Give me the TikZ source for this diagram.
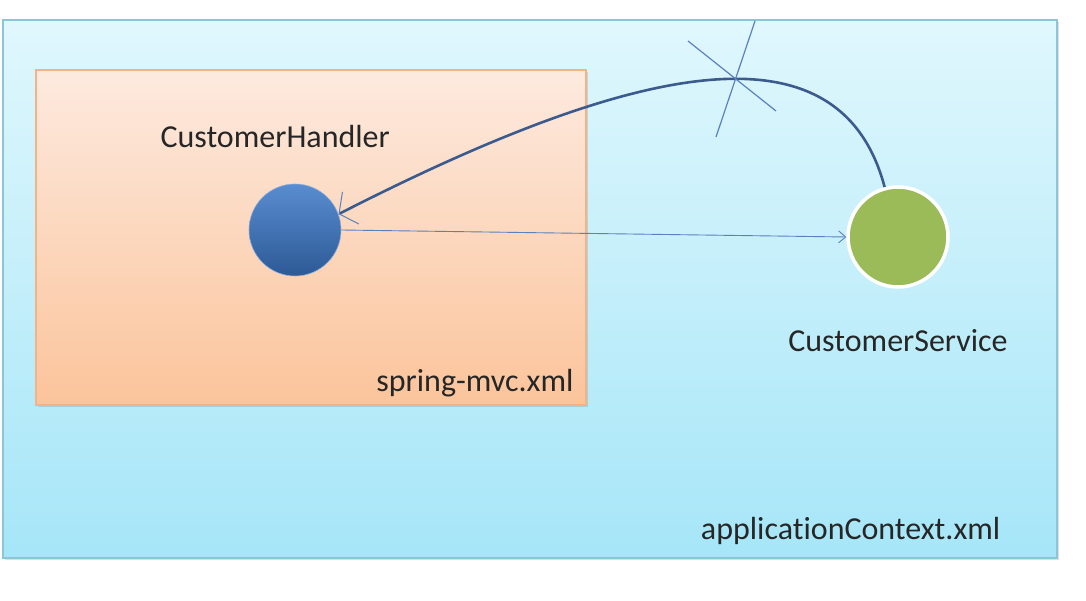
\documentclass[tikz,border=0pt]{standalone}
\usepackage{fontspec}
\setmainfont{Carlito}[Ligatures=NoCommon]
\usetikzlibrary{positioning,shadows,arrows.meta}
\definecolor{ctxtop}{HTML}{E0F7FD}
\definecolor{ctxbot}{HTML}{A6E6F8}
\definecolor{ctxline}{HTML}{8CC6D6}
\definecolor{mvctop}{HTML}{FDEADF}
\definecolor{mvcbot}{HTML}{FBC49B}
\definecolor{mvcline}{HTML}{F2B486}
\definecolor{beanblue}{HTML}{3C78C8}
\definecolor{beangreen}{HTML}{9BBB59}
\definecolor{wire}{HTML}{3B5B8E}
\definecolor{thinwire}{HTML}{5B80BE}
\begin{document}
\begin{tikzpicture}[x=1pt,y=-1pt,
		lbl/.style={font=\fontsize{32}{38}\selectfont, text=black!85, inner sep=0pt},
		box/.style={draw, line width=1.2pt, inner sep=0pt, drop shadow={opacity=0.25, shadow xshift=2pt, shadow yshift=-2pt}},
		bean/.style={circle, inner sep=0pt}]
		\useasboundingbox (0,0) rectangle (1086,601);
		\fill [white] (0,0) rectangle (1086,601);
		% containers
		\node (context) [box, draw=ctxline, top color=ctxtop, bottom color=ctxbot, minimum width=1054pt, minimum height=538pt] at (530,289) {};
		\node (mvc) [box, draw=mvcline, top color=mvctop, bottom color=mvcbot, minimum width=550pt, minimum height=335pt] at (311,237.5) {};
		\node [lbl, anchor=base east] at ([xshift=-57pt, yshift=19pt]context.south east) {applicationContext.xml};
		\node [lbl, anchor=base east] at ([xshift=-13pt, yshift=14pt]mvc.south east) {spring-mvc.xml};
		% beans
		\node (handler) [bean, top color=beanblue!85!white, bottom color=beanblue!75!black, draw=beanblue!60!white, line width=0.6pt, minimum size=92pt] at (295,230) {};
		\node (service) [bean, fill=beangreen, draw=white, line width=3.5pt, minimum size=100pt] at (898,237) {};
		\node [lbl, above left=36pt and -95pt of handler.north] {CustomerHandler};
		\node [lbl, below=41pt of service] {CustomerService};
		% references
		\draw [thinwire, line width=0.9pt, -{Straight Barb[length=7pt, width=12pt]}] (handler.east) -- (service.west);
		\draw [wire, line width=2.6pt, -{Straight Barb[length=13pt, width=36pt, line width=1pt, color=thinwire]}] (service.105) .. controls (840,20) and (640,60) .. (handler.20);
		% cut
		\draw [thinwire, line width=1.2pt] (688,41) -- (776,111);
		\draw [thinwire, line width=1.2pt] (755,21) -- (716,137);
	\end{tikzpicture}
\end{document}
